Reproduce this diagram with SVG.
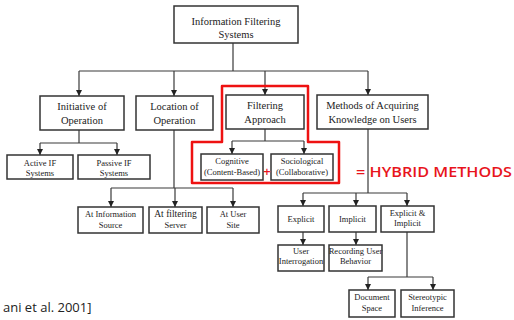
<svg xmlns="http://www.w3.org/2000/svg" width="514" height="320" viewBox="0 0 514 320">
<defs>
<marker id="arr" viewBox="0 0 10 10" refX="10" refY="5" markerWidth="6" markerHeight="6" markerUnits="userSpaceOnUse" orient="auto">
<path d="M0,0 L10,5 L0,10 z" fill="#222"/>
</marker>
</defs>
<style>
.box{fill:#fff;stroke:#333;stroke-width:1.5}
.ln{fill:none;stroke:#3a3a3a;stroke-width:1.2}
.ar{fill:none;stroke:#3a3a3a;stroke-width:1.2;marker-end:url(#arr)}
.t{font-family:"Liberation Serif","Times New Roman",serif;font-size:10.5px;fill:#222;text-anchor:middle}
.s{font-family:"Liberation Serif","Times New Roman",serif;font-size:8.5px;fill:#222;text-anchor:middle}
.red{fill:#e8141c;font-family:"Open Sans","DejaVu Sans",sans-serif;font-weight:600}
</style>
<rect width="514" height="320" fill="#fff"/>

<g id="connectors">
<path class="ln" d="M233,43 V71 M79,71 H368"/>
<path class="ar" d="M79,71 V96"/>
<path class="ar" d="M174,71 V96"/>
<path class="ar" d="M265,71 V95"/>
<path class="ar" d="M368,71 V95"/>
<path class="ln" d="M79,130 V143 M40,143 H117"/>
<path class="ar" d="M40,143 V155"/>
<path class="ar" d="M117,143 V155"/>
<path class="ln" d="M174,130 V188 M111,188 H233"/>
<path class="ar" d="M111,188 V207"/>
<path class="ar" d="M175,188 V207"/>
<path class="ar" d="M233,188 V207"/>
<path class="ln" d="M265,129 V141 M232,141 H304"/>
<path class="ar" d="M232,141 V154"/>
<path class="ar" d="M304,141 V154"/>
<path class="ln" d="M368,129 V193 M303,193 H407"/>
<path class="ar" d="M303,193 V206"/>
<path class="ar" d="M356,193 V206"/>
<path class="ar" d="M407,193 V206"/>
<path class="ar" d="M303,232 V245"/>
<path class="ar" d="M356,232 V245"/>
<path class="ln" d="M407,232 V277 M368,277 H433"/>
<path class="ar" d="M368,277 V290"/>
<path class="ar" d="M433,277 V290"/>
</g>

<g id="n-root"><rect class="box" x="174" y="6" width="124" height="37"/>
<text class="t" x="236" y="25">Information Filtering</text><text class="t" x="236" y="38">Systems</text></g>

<g id="n-initiative"><rect class="box" x="40" y="96" width="84" height="34"/>
<text class="t" x="82" y="110">Initiative of</text><text class="t" x="82" y="124">Operation</text></g>
<g id="n-location"><rect class="box" x="136" y="96" width="77" height="34"/>
<text class="t" x="174.5" y="110">Location of</text><text class="t" x="174.5" y="124">Operation</text></g>
<g id="n-filtering"><rect class="box" x="226" y="95" width="78" height="34"/>
<text class="t" x="265" y="109">Filtering</text><text class="t" x="265" y="123">Approach</text></g>
<g id="n-methods"><rect class="box" x="317" y="95" width="111" height="34"/>
<text class="t" x="372.5" y="109">Methods of Acquiring</text><text class="t" x="372.5" y="123">Knowledge on Users</text></g>

<g id="n-active"><rect class="box" x="7" y="155" width="66" height="24"/>
<text class="s" x="40" y="166">Active IF</text><text class="s" x="40" y="176">Systems</text></g>
<g id="n-passive"><rect class="box" x="78" y="155" width="72" height="24"/>
<text class="s" x="114" y="166">Passive IF</text><text class="s" x="114" y="176">Systems</text></g>

<g id="n-cognitive"><rect class="box" x="201" y="154" width="62" height="26"/>
<text class="s" x="232" y="164">Cognitive</text><text class="s" x="232" y="175">(Content-Based)</text></g>
<g id="n-sociological"><rect class="box" x="271" y="154" width="62" height="26"/>
<text class="s" x="302" y="164">Sociological</text><text class="s" x="302" y="175">(Collaborative)</text></g>

<g id="n-source"><rect class="box" x="78" y="207" width="65" height="26"/>
<text class="s" x="110.5" y="217">At Information</text><text class="s" x="110.5" y="228">Source</text></g>
<g id="n-server"><rect class="box" x="149" y="207" width="53" height="26"/>
<text class="s" x="175.5" y="217" style="font-size:9.5px">At filtering</text><text class="s" x="175.5" y="228">Server</text></g>
<g id="n-usersite"><rect class="box" x="207" y="207" width="52" height="26"/>
<text class="s" x="233" y="217">At User</text><text class="s" x="233" y="228">Site</text></g>

<g id="n-explicit"><rect class="box" x="278" y="206" width="46" height="26"/>
<text class="s" x="301" y="222">Explicit</text></g>
<g id="n-implicit"><rect class="box" x="329" y="206" width="47" height="26"/>
<text class="s" x="352.5" y="222">Implicit</text></g>
<g id="n-both"><rect class="box" x="381" y="206" width="53" height="26"/>
<text class="s" x="407.5" y="216">Explicit &amp;</text><text class="s" x="407.5" y="226">Implicit</text></g>

<g id="n-interrogation"><rect class="box" x="278" y="245" width="46" height="26"/>
<text class="s" x="301" y="254">User</text><text class="s" x="301" y="264">Interrogation</text></g>
<g id="n-recording"><rect class="box" x="329" y="245" width="53" height="26"/>
<text class="s" x="355.5" y="254">Recording User</text><text class="s" x="355.5" y="264">Behavior</text></g>

<g id="n-document"><rect class="box" x="349" y="290" width="46" height="27"/>
<text class="s" x="372" y="300">Document</text><text class="s" x="372" y="311">Space</text></g>
<g id="n-stereotypic"><rect class="box" x="401" y="290" width="53" height="27"/>
<text class="s" x="427.5" y="300">Stereotypic</text><text class="s" x="427.5" y="311">Inference</text></g>

<g id="hybrid">
<path d="M222,86 H308 V142 H339 V183 H192 V142 H222 Z" fill="none" stroke="#ee1111" stroke-width="2.5" stroke-linejoin="round"/>
<text class="red" x="267" y="176" font-size="13" text-anchor="middle">+</text>
<text class="red" x="356" y="177" font-size="14.5" textLength="156" lengthAdjust="spacingAndGlyphs">= HYBRID METHODS</text>
</g>

<text x="3" y="312" font-family="'Open Sans','DejaVu Sans',sans-serif" font-size="13" fill="#222">ani et al. 2001]</text>
</svg>
